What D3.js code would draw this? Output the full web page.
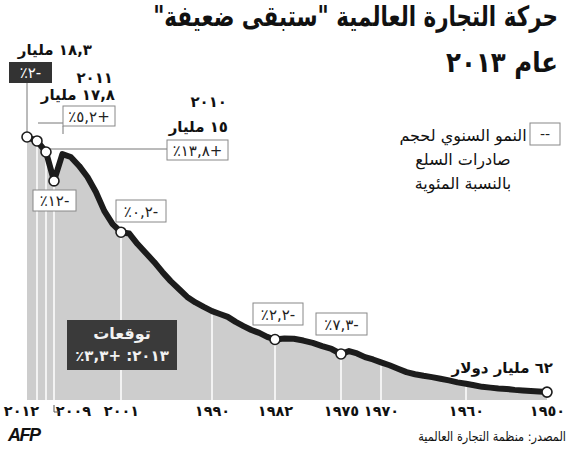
<!DOCTYPE html>
<html>
<head>
<meta charset="utf-8">
<script src="https://cdn.jsdelivr.net/npm/d3@7"></script>
<style>
    body { margin: 0; background: #fff; }
    svg { display: block; font-family: "DejaVu Sans", sans-serif; }
</style>
</head>
<body>
<svg id="chart" width="574" height="450"></svg>
<script>
// world merchandise export volume (index, 2012 = 100)
const years = [2012, 2011, 2010, 2009, 2008, 2007, 2006, 2005, 2004, 2003, 2002, 2001, 2000,
    1999, 1998, 1997, 1996, 1995, 1994, 1993, 1992, 1991, 1990, 1989, 1988, 1987, 1986, 1985,
    1984, 1983, 1982, 1981, 1980, 1979, 1978, 1977, 1976, 1975, 1974, 1973, 1972, 1971, 1970,
    1969, 1968, 1967, 1966, 1965, 1964, 1963, 1962, 1961, 1960, 1959, 1958, 1957, 1956, 1955,
    1954, 1953, 1952, 1951, 1950];
const volume = [100, 98.5, 94.3, 83.3, 93.5, 92.4, 89.0, 84.8, 79.1, 71.9, 66.9, 63.8, 63.3,
    59.3, 55.9, 52.5, 48.7, 45.2, 42.2, 39.2, 37.1, 35.4, 33.8, 32.7, 31.6, 29.7, 28.1, 26.6,
    25.5, 24.0, 23.0, 23.4, 23.3, 22.6, 21.7, 20.5, 19.4, 17.5, 18.6, 17.7, 16.3, 15.4, 14.3,
    13.2, 11.9, 10.6, 9.8, 9.2, 8.7, 8.1, 7.45, 6.7, 6.2, 5.6, 5.0, 4.7, 4.4, 4.2,
    3.85, 3.6, 3.4, 3.2, 3.0];

const tickYears = [2012, 2009, 2001, 1990, 1982, 1975, 1970, 1960, 1950];
const gridYears = [2011, 2010, 2009, 2001, 1990, 1982, 1975, 1970, 1960];
const dotYears = [2012, 2011, 2010, 2009, 2001, 1982, 1975, 1950];

// annual growth boxes
const growthYears = [2011, 2010, 2009, 2001, 1982, 1975];
const growthText = ["+٥,٢٪", "+١٣,٨٪", "-١٢٪", "-٠,٢٪", "-٢,٢٪", "-٧,٣٪"];

const title1 = "حركة التجارة العالمية \"ستبقى ضعيفة\"";
const title2 = "عام ٢٠١٣";
const legendLines = ["النمو السنوي لحجم", "صادرات السلع", "بالنسبة المئوية"];
const source = "المصدر: منظمة التجارة العالمية";

const svg = d3.select("#chart");
const baseline = 400;

const digits = "٠١٢٣٤٥٦٧٨٩";
const arabicNum = n => String(n).replace(/[0-9]/g, c => digits[+c]);
// keep mixed arabic / number strings right-to-left
const rtl = s => "\u202B" + s + "\u202C";

const x = d3.scaleLinear()
    .domain([2012, 2011, 2010, 2009, 2001, 1990, 1982, 1975, 1970, 1960, 1950])
    .range([27, 37, 46, 54, 121, 212, 275, 341, 381, 466, 547]);

const y = d3.scaleLinear()
    .domain([0, 100])
    .range([baseline, 137]);

const data = years.map((yr, i) => ({ year: yr, value: volume[i] }));
const byYear = new Map(data.map(d => [d.year, d.value]));

const area = d3.area()
    .x(d => x(d.year))
    .y0(baseline)
    .y1(d => y(d.value));

const line = d3.line()
    .x(d => x(d.year))
    .y(d => y(d.value));

svg.append("path")
    .datum(data)
    .attr("d", area)
    .attr("fill", "#cdcdcd");

svg.append("g")
    .selectAll("line")
    .data(gridYears)
    .join("line")
    .attr("x1", d => x(d))
    .attr("x2", d => x(d))
    .attr("y1", d => y(byYear.get(d)))
    .attr("y2", baseline)
    .attr("stroke", "#fff")
    .attr("stroke-width", 1.5);

// leader lines
const leaders = svg.append("g")
    .attr("stroke", "#777")
    .attr("stroke-width", 1)
    .attr("fill", "none");
leaders.append("path").attr("d", `M${x(2012)},83V${y(byYear.get(2012)) - 4}`);
leaders.append("path").attr("d", `M${x(2011) + 1},123H63M63,126V134`);
leaders.append("path").attr("d", `M${x(2010) + 3},149H167`);

svg.append("path")
    .datum(data)
    .attr("d", line)
    .attr("fill", "none")
    .attr("stroke", "#1c1c1c")
    .attr("stroke-width", 6)
    .attr("stroke-linejoin", "round")
    .attr("stroke-linecap", "round");

svg.append("g")
    .selectAll("circle")
    .data(dotYears)
    .join("circle")
    .attr("cx", d => x(d))
    .attr("cy", d => y(byYear.get(d)))
    .attr("r", 5)
    .attr("fill", "#fff")
    .attr("stroke", "#1c1c1c")
    .attr("stroke-width", 1.6);

// x axis
const axis = svg.append("g")
    .attr("transform", `translate(0,${baseline})`)
    .call(d3.axisBottom(x).tickValues(tickYears).tickSize(0).tickPadding(6).tickFormat(arabicNum));
axis.select(".domain").remove();
axis.selectAll("text")
    .attr("font-family", "DejaVu Sans")
    .attr("font-size", 14.5)
    .attr("font-weight", "bold")
    .attr("fill", "#111")
    .attr("dx", d => d == 2012 ? -6 : d == 2009 ? 19 : 0);
svg.append("path")
    .attr("d", `M${x(2009)},405V412H59`)
    .attr("fill", "none")
    .attr("stroke", "#555")
    .attr("stroke-width", 1);

// growth boxes
const boxPos = {
    2011: [63, 106, 52, 20],
    2010: [167, 140, 61, 20],
    2009: [33, 190, 43, 21],
    2001: [116, 200, 50, 22],
    1982: [253, 303, 50, 22],
    1975: [316, 313, 51, 22]
};
const boxes = svg.append("g")
    .selectAll("g")
    .data(growthYears)
    .join("g")
    .attr("transform", d => `translate(${boxPos[d][0]},${boxPos[d][1]})`);
boxes.append("rect")
    .attr("width", d => boxPos[d][2])
    .attr("height", d => boxPos[d][3])
    .attr("fill", "#fff")
    .attr("stroke", "#888");
boxes.append("text")
    .attr("x", d => boxPos[d][2] / 2)
    .attr("y", d => boxPos[d][3] / 2 + 5.5)
    .attr("text-anchor", "middle")
    .attr("font-size", 15)
    .attr("fill", "#222")
    .text((d, i) => rtl(growthText[i]));

// 2012 dark box
svg.append("rect")
    .attr("x", 9).attr("y", 62).attr("width", 43).attr("height", 21)
    .attr("fill", "#333");
svg.append("text")
    .attr("x", 30.5).attr("y", 78)
    .attr("text-anchor", "middle")
    .attr("font-size", 15)
    .attr("fill", "#fff")
    .text(rtl("-٢٪"));

// bold value labels
const labels = [
    [rtl("١٨,٣ مليار"), 92, 55],
    [rtl("٢٠١١"), 113, 83],
    [rtl("١٧,٨ مليار"), 115, 100],
    [rtl("٢٠١٠"), 227, 107],
    [rtl("١٥ مليار"), 228, 132],
    [rtl("٦٢ مليار دولار"), 553, 373]
];
svg.append("g")
    .selectAll("text")
    .data(labels)
    .join("text")
    .attr("x", d => d[1])
    .attr("y", d => d[2])
    .attr("text-anchor", "end")
    .attr("font-size", 15)
    .attr("font-weight", "bold")
    .attr("fill", "#111")
    .text(d => d[0]);

// forecast box
svg.append("rect")
    .attr("x", 67).attr("y", 320).attr("width", 110).attr("height", 50)
    .attr("fill", "#3a3a3a");
svg.append("text")
    .attr("x", 122).attr("y", 339)
    .attr("text-anchor", "middle")
    .attr("font-size", 16).attr("font-weight", "bold").attr("fill", "#f2f2f2")
    .text("توقعات");
svg.append("text")
    .attr("x", 122).attr("y", 361)
    .attr("text-anchor", "middle")
    .attr("font-size", 15).attr("font-weight", "bold").attr("fill", "#f2f2f2")
    .text(rtl("٢٠١٣: +٣,٣٪"));

// right-aligned text squeezed horizontally to a measured width
function squeezed(str, right, base, size, bold, w) {
    const t = svg.append("text")
        .attr("text-anchor", "end")
        .attr("font-size", size)
        .attr("font-weight", bold ? "bold" : "normal")
        .attr("fill", "#111")
        .text(rtl(str));
    const k = Math.min(1, w / t.node().getComputedTextLength());
    t.attr("transform", `translate(${right},${base}) scale(${k},1)`);
    return t;
}

// title
squeezed(title1, 558, 26, 28, true, 405);
squeezed(title2, 558, 72, 28, true, 112);

// legend
svg.append("rect")
    .attr("x", 530).attr("y", 123).attr("width", 30).attr("height", 22)
    .attr("fill", "#fff").attr("stroke", "#888");
svg.append("text")
    .attr("x", 545).attr("y", 139)
    .attr("text-anchor", "middle")
    .attr("font-size", 14).attr("fill", "#222")
    .text("--");
svg.append("g")
    .selectAll("text")
    .data(legendLines)
    .join("text")
    .attr("x", 463)
    .attr("y", (d, i) => 141 + i * 24)
    .attr("text-anchor", "middle")
    .attr("font-size", 16)
    .attr("fill", "#111")
    .text(d => d);

// footer
svg.append("text")
    .attr("x", 8).attr("y", 441)
    .attr("font-family", "Liberation Sans")
    .attr("font-size", 18).attr("font-weight", "bold").attr("font-style", "italic")
    .attr("letter-spacing", -1.5)
    .attr("fill", "#111")
    .text("AFP");
squeezed(source, 566, 441, 13, false, 148);
</script>
</body>
</html>
